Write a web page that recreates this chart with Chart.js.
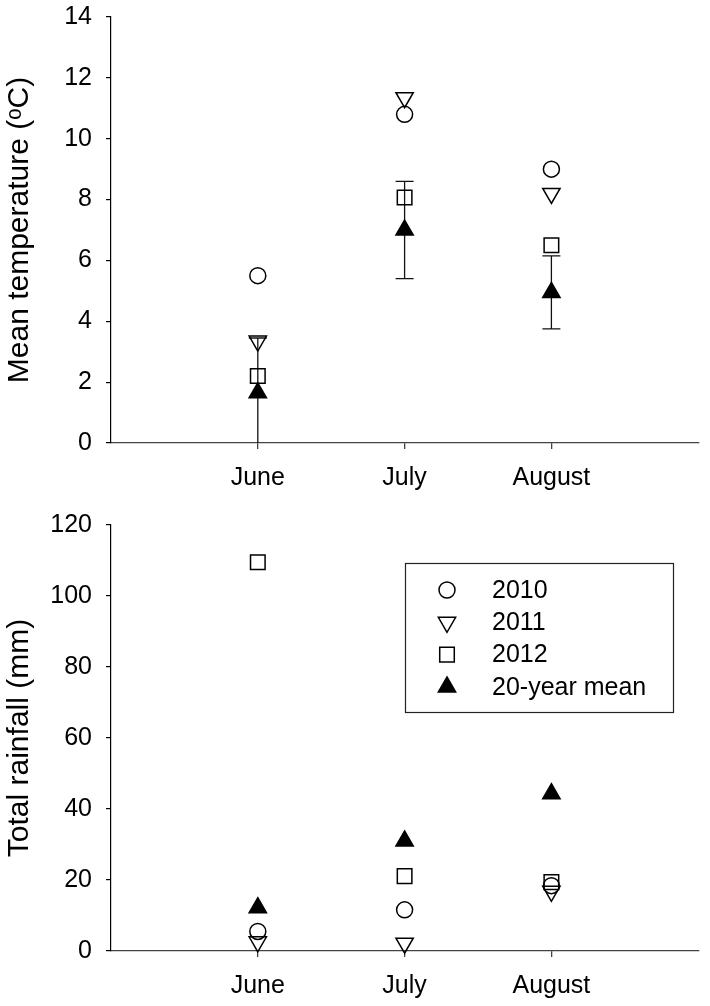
<!DOCTYPE html>
<html>
<head>
<meta charset="utf-8">
<script src="https://cdn.jsdelivr.net/npm/chart.js@4.4.0/dist/chart.umd.min.js"></script>
<style>
  html, body { margin: 0; padding: 0; background: #fff; }
  #wrap { position: relative; width: 710px; height: 1006px; }
  canvas { position: absolute; left: 0; }
  #temp { top: 0; }
  #rain { top: 505px; }
</style>
</head>
<body>
<div id="wrap">
  <canvas id="temp" width="710" height="505"></canvas>
  <canvas id="rain" width="710" height="501"></canvas>
</div>
<script>
const months = ['June', 'July', 'August'];
const seriesLabels = ['2010', '2011', '2012', '20-year mean'];

// mean temperature (oC)
const temp2010 = [5.5, 10.8, 9.0];
const temp2011 = [3.35, 11.35, 8.2];
const temp2012 = [2.2, 8.07, 6.5];
const tempMean = [1.65, 7.0, 4.95];
const tempMeanErr = [1.8, 1.6, 1.2];

// total rainfall (mm)
const rain2010 = [5.5, 11.6, 18.4];
const rain2011 = [2.6, 2.2, 16.8];
const rain2012 = [109.5, 21.1, 19.4];
const rainMean = [12.2, 31.0, 44.3];

const FONT = '"Liberation Sans", Arial, "DejaVu Sans", sans-serif';

// open circle, open down triangle, open square, filled triangle
const markers = [
  { style: 'circle', radius: 8, rotation: 0, fill: 'rgba(0,0,0,0)' },
  { style: 'triangle', radius: 10, rotation: 180, fill: 'rgba(0,0,0,0)' },
  { style: 'rect', radius: 10.3, rotation: 0, fill: 'rgba(0,0,0,0)' },
  { style: 'triangle', radius: 10, rotation: 0, fill: '#000' }
];

function makeDatasets(series) {
  return series.map((vals, k) => ({
    label: seriesLabels[k],
    data: vals.map((v, i) => ({ x: i + 1, y: v })),
    showLine: false,
    pointStyle: markers[k].style,
    pointRadius: markers[k].radius,
    pointHoverRadius: markers[k].radius,
    pointRotation: markers[k].rotation,
    pointBackgroundColor: markers[k].fill,
    pointBorderColor: '#000',
    pointBorderWidth: 1.5,
    clip: false
  }));
}

// vertical error bars with caps on one dataset
const errorBars = {
  id: 'errorBars',
  beforeDatasetsDraw(chart, args, opts) {
    if (!opts.values) return;
    const { ctx, chartArea, scales: { x, y } } = chart;
    const ds = chart.data.datasets[opts.dataset];
    ctx.save();
    ctx.beginPath();
    ctx.rect(chartArea.left, chartArea.top, chartArea.width, chartArea.height);
    ctx.clip();
    ctx.strokeStyle = '#111';
    ctx.lineWidth = 1.3;
    ds.data.forEach((p, i) => {
      const e = opts.values[i];
      const px = x.getPixelForValue(p.x);
      const top = y.getPixelForValue(p.y + e);
      const bot = y.getPixelForValue(p.y - e);
      ctx.beginPath();
      ctx.moveTo(px, top); ctx.lineTo(px, bot);
      ctx.moveTo(px - 9, top); ctx.lineTo(px + 9, top);
      ctx.moveTo(px - 9, bot); ctx.lineTo(px + 9, bot);
      ctx.stroke();
    });
    ctx.restore();
  }
};

// boxed legend inside the plot area
const boxLegend = {
  id: 'boxLegend',
  afterDraw(chart, args, opts) {
    if (!opts.show) return;
    const { ctx, chartArea } = chart;
    const left = chartArea.left + 294, top = chartArea.top + 38;
    ctx.save();
    ctx.strokeStyle = '#222';
    ctx.lineWidth = 1.2;
    ctx.strokeRect(left + 0.5, top + 0.5, 268, 149);
    ctx.font = '25px ' + FONT;
    ctx.textBaseline = 'middle';
    chart.data.datasets.forEach((ds, k) => {
      const cy = top + 27 + k * 32.3;
      ctx.fillStyle = ds.pointBackgroundColor;
      ctx.strokeStyle = '#000';
      ctx.lineWidth = 1.5;
      Chart.helpers.drawPoint(ctx, {
        pointStyle: ds.pointStyle, radius: ds.pointRadius,
        rotation: ds.pointRotation, borderWidth: 1.5
      }, left + 42, cy);
      ctx.fillStyle = '#000';
      ctx.fillText(ds.label, left + 87, cy + 1);
    });
    ctx.restore();
  }
};

function makeChart(id, series, yMax, yStep, yTitle, opts) {
  return new Chart(document.getElementById(id), {
    type: 'scatter',
    data: { datasets: makeDatasets(series) },
    plugins: [errorBars, boxLegend],
    options: {
      responsive: false,
      animation: false,
      events: [],
      layout: { padding: { left: 0, right: opts.right, top: opts.top, bottom: 0 } },
      plugins: {
        legend: { display: false },
        tooltip: { enabled: false },
        errorBars: { dataset: 3, values: opts.err },
        boxLegend: { show: opts.legend }
      },
      scales: {
        x: {
          type: 'linear', min: 0, max: 4,
          afterBuildTicks: s => { s.ticks = months.map((m, i) => ({ value: i + 1 })); },
          afterFit: s => { s.height = opts.xHeight; },
          ticks: {
            callback: v => months[v - 1],
            font: { family: FONT, size: 25 }, color: '#000', padding: 14, maxRotation: 0
          },
          grid: { drawOnChartArea: false, drawTicks: true, tickLength: 6, color: '#444', lineWidth: 1.3 },
          border: { display: true, color: '#444', width: 1.3 }
        },
        y: {
          min: 0, max: yMax,
          afterFit: s => { s.width = 111; s.paddingTop = 0; s.paddingBottom = 0; },
          ticks: {
            stepSize: yStep,
            font: { family: FONT, size: 25 }, color: '#000', padding: 14
          },
          grid: { drawOnChartArea: false, drawTicks: true, tickLength: 5, color: '#000', lineWidth: 1.2 },
          border: { display: true, color: '#000', width: 1.2 },
          title: {
            display: true, text: yTitle, color: '#000',
            font: { family: FONT, size: 30 }, padding: { top: 2, bottom: 0 }
          }
        }
      }
    }
  });
}

makeChart('temp', [temp2010, temp2011, temp2012, tempMean], 14, 2, 'Mean temperature (\u1D52C)',
  { top: 17, right: 7, xHeight: 62, err: tempMeanErr, legend: false });
makeChart('rain', [rain2010, rain2011, rain2012, rainMean], 120, 20, 'Total rainfall (mm)',
  { top: 20, right: 10, xHeight: 55, err: null, legend: true });
</script>
</body>
</html>
